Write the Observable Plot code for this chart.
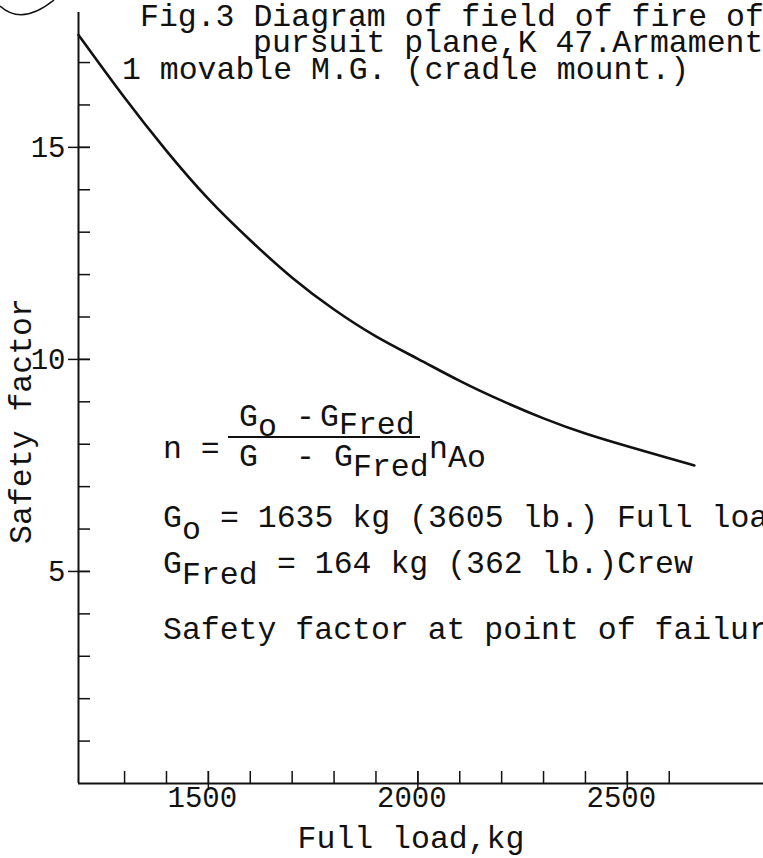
<!DOCTYPE html>
<html><head><meta charset="utf-8">
<script src="https://cdn.jsdelivr.net/npm/d3@7"></script>
<script src="https://cdn.jsdelivr.net/npm/@observablehq/plot@0.6"></script>
<style>
html,body{margin:0;padding:0;background:#fff;overflow:hidden;width:763px;height:858px}
#chart svg{display:block}
</style></head><body><div id="chart"></div>
<script>
// Data
const fullLoadKg   = [1190, 1300, 1400, 1500, 1600, 1700, 1800, 1900, 2000, 2100, 2200, 2300, 2400, 2500, 2600, 2660];
const safetyFactor = [17.65, 16.15, 14.9, 13.75, 12.8, 11.9, 11.16, 10.52, 10.02, 9.48, 9.02, 8.6, 8.24, 7.95, 7.67, 7.5];
const xMinorTicks  = [1300, 1400, 1500, 1600, 1700, 1800, 1900, 2000, 2100, 2200, 2300, 2400, 2500, 2600];
const xTickLabels  = [1500, 2000, 2500];
const yMinorTicks  = [1, 2, 3, 4, 5, 6, 7, 8, 9, 10, 11, 12, 13, 14, 15, 16, 17];
const yTickLabels  = [5, 10, 15];
const titleLines   = ["Fig.3 Diagram of field of fire of", "pursuit plane,K 47.Armament", "1 movable M.G. (cradle mount.)"];
const xAxisTitle   = "Full load,kg";
const yAxisTitle   = "Safety factor";

const FONT = "Liberation Mono, Courier New, monospace";
const INK = "#111";
const rows = fullLoadKg.map((g, i) => ({g, n: safetyFactor[i]}));

const chart = Plot.plot({
  width: 763, height: 858,
  marginLeft: 78, marginRight: 0, marginTop: 12, marginBottom: 75,
  x: {domain: [1190, 2825], axis: null},
  y: {domain: [0, 18.18], axis: null},
  style: {background: "#fff"},
  marks: [
    Plot.ruleX([1190], {stroke: INK, strokeWidth: 2}),
    Plot.ruleY([0], {stroke: INK, strokeWidth: 2}),
    Plot.tickX(xMinorTicks, {x: d => d, stroke: INK, strokeWidth: 1.5, insetTop: 759}),
    Plot.tickX(xTickLabels, {x: d => d, stroke: INK, strokeWidth: 1.5, insetTop: 759, insetBottom: -6}),
    Plot.tickY(yMinorTicks, {y: d => d, stroke: INK, strokeWidth: 1.5, insetRight: 673}),
    Plot.tickY(yTickLabels, {y: d => d, stroke: INK, strokeWidth: 1.5, insetRight: 673, insetLeft: -10}),
    Plot.text(xTickLabels, {x: d => d, text: d => String(d), frameAnchor: "bottom", dy: 23, dx: -6, fontSize: 29, fontFamily: FONT, fill: INK}),
    Plot.text(yTickLabels, {y: d => d, text: d => String(d), frameAnchor: "left", textAnchor: "end", dx: -13, fontSize: 29, fontFamily: FONT, fill: INK}),
    Plot.line(rows, {x: "g", y: "n", stroke: INK, strokeWidth: 2.6, curve: "basis"})
  ]
});
document.getElementById("chart").append(chart);

// Typewritten annotations
const svg = d3.select(chart);
const g = svg.append("g").attr("fill", INK).attr("font-family", FONT).attr("font-size", 31.5)
  .attr("text-anchor", "start").style("white-space", "pre");
function t(x, y, s, opts = {}) {
  const el = g.append("text").attr("x", x).attr("y", y).attr("text-anchor", opts.anchor || "start").text(s);
  if (opts.size) el.attr("font-size", opts.size);
  return el;
}
// title
t(140, 26, titleLines[0]);
t(253, 52, titleLines[1]);
t(122, 79, titleLines[2]);
// axis titles
t(411, 848, xAxisTitle, {anchor: "middle"});
g.append("text").attr("transform", "translate(31,421) rotate(-90)").attr("text-anchor", "middle").text(yAxisTitle);
// formula
t(163, 458, "n =");
t(239, 426, "G"); t(258, 436, "o"); t(296, 426, "-"); t(320, 426, "G"); t(339, 434, "Fred");
svg.append("line").attr("x1", 228).attr("x2", 420).attr("y1", 437).attr("y2", 437).attr("stroke", INK).attr("stroke-width", 2.2);
t(239, 466, "G"); t(296, 466, "-"); t(334, 466, "G"); t(353, 476, "Fred");
t(429, 458, "n"); t(448, 467, "Ao");
// constants
t(163, 527, "G"); t(182, 539, "o"); t(220, 527, "= 1635 kg (3605 lb.) Full load");
t(163, 573, "G"); t(182, 584, "Fred"); t(277, 573, "= 164 kg (362 lb.)Crew");
t(163, 639, "Safety factor at point of failure");
// circled page mark (cut off at top-left corner)
svg.append("path").attr("d", "M0,6 Q22,26 54,0").attr("fill", "none").attr("stroke", INK).attr("stroke-width", 1.5);
</script></body></html>
